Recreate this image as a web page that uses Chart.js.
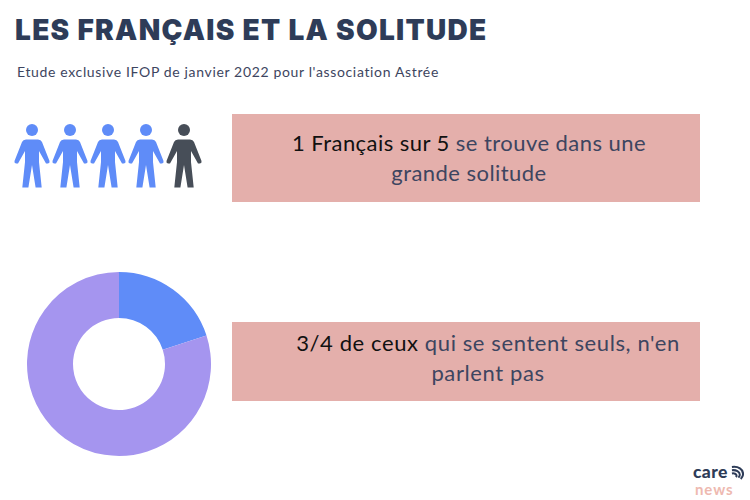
<!DOCTYPE html>
<html lang="fr">
<head>
<meta charset="utf-8">
<title>Les Français et la solitude</title>
<script src="https://cdn.jsdelivr.net/npm/chart.js@4"></script>
<style>
  html, body { margin: 0; padding: 0; background: #fff; }
  #page { position: relative; width: 750px; height: 500px; overflow: hidden; font-family: Lato, sans-serif; color: #3d4560; }
  #page > * { position: absolute; }
  h1 { margin: 0; left: 15px; top: 11px; font: 900 28px/38px Inter, sans-serif; letter-spacing: 1.3px; color: #2e3c58; white-space: nowrap; }
  #subtitle { left: 17px; top: 64px; font-size: 14px; line-height: 16px; letter-spacing: 0.65px; white-space: nowrap; }
  .box { left: 232px; width: 468px; background: #e4afab; font-size: 22px; line-height: 30px; letter-spacing: 0.45px; text-align: center; }
  .box b { font-weight: 400; color: #111; }
  #box1 { top: 114px; height: 88px; }
  #box1 div { margin-top: 14px; padding-left: 6px; }
  #box2 { top: 322px; height: 79px; letter-spacing: 0.6px; }
  #box2 div { margin-top: 6px; padding-left: 44px; }
  #logo1 { left: 693px; top: 464px; font: 900 17.5px/16px Lato, sans-serif; color: #2e3c58; letter-spacing: 0.4px; }
  #logo2 { left: 695px; top: 482px; font: 700 15px/14px Lato, sans-serif; color: #eeb9b0; letter-spacing: 0.9px; }
  #logoMark { left: 731px; top: 465px; }
</style>
</head>
<body>
<div id="page">
  <h1>LES FRANÇAIS ET LA SOLITUDE</h1>
  <div id="subtitle">Etude exclusive IFOP de janvier 2022 pour l'association Astrée</div>
  <canvas id="peopleChart" width="190" height="70" style="left:13px;top:121px"></canvas>
  <div class="box" id="box1"><div><b>1 Français sur 5</b> se trouve dans une<br>grande solitude</div></div>
  <canvas id="donutChart" width="200" height="200" style="left:19px;top:264px"></canvas>
  <div class="box" id="box2"><div><b>3/4 de ceux</b> qui se sentent seuls, n'en<br>parlent pas</div></div>
  <div id="logo1">care</div>
  <div id="logo2">news</div>
  <svg id="logoMark" width="13" height="16" viewBox="0 0 14 16" fill="none" stroke="#2e3c58" stroke-width="2.2">
    <path d="M1 1.5 C8 0.5 13 4 13 9 C13 11 12 13 10.5 14.5"/>
    <path d="M1 5 C5.5 4.5 9.5 6.5 9.5 10 C9.5 11 9 12 8 13"/>
    <path d="M1 8.5 C3.5 8 6 9 6 11 C6 11.5 5.8 12 5.4 12.5"/>
  </svg>
</div>
<script>
const donutLabels = ['Se trouve dans une grande solitude', 'Autres'];
const donutValues = [20, 80];
const donutColors = ['#5f8cf8', '#a595ef'];

const peopleColumns = [1, 2, 3, 4, 5];
const peopleRow = [1, 1, 1, 1, 1];
const peopleColors = ['#5f8cf8', '#5f8cf8', '#5f8cf8', '#5f8cf8', '#474e58'];

// little person used as point style
function makePerson(color) {
  const c = document.createElement('canvas');
  c.width = 40;
  c.height = 68;
  const ctx = c.getContext('2d');
  ctx.translate(20, 2);
  ctx.fillStyle = color;
  ctx.beginPath();
  ctx.arc(0, 6, 6, 0, Math.PI * 2);
  ctx.fill();
  ctx.beginPath();
  ctx.moveTo(-6, 15.5);
  ctx.lineTo(6, 15.5);
  ctx.quadraticCurveTo(9, 15.5, 10, 18);
  ctx.lineTo(17.5, 37);
  ctx.quadraticCurveTo(18, 39, 16, 39.5);
  ctx.lineTo(14, 39.5);
  ctx.lineTo(7, 27);
  ctx.lineTo(7, 38);
  ctx.lineTo(9.7, 63.5);
  ctx.lineTo(3.6, 63.5);
  ctx.lineTo(0, 41);
  ctx.lineTo(-3.6, 63.5);
  ctx.lineTo(-9.7, 63.5);
  ctx.lineTo(-7, 38);
  ctx.lineTo(-7, 27);
  ctx.lineTo(-14, 39.5);
  ctx.lineTo(-16, 39.5);
  ctx.quadraticCurveTo(-18, 39, -17.5, 37);
  ctx.lineTo(-10, 18);
  ctx.quadraticCurveTo(-9, 15.5, -6, 15.5);
  ctx.closePath();
  ctx.fill();
  return c;
}

new Chart(document.getElementById('peopleChart'), {
  type: 'scatter',
  data: {
    datasets: [{
      data: peopleColumns.map((x, i) => ({ x: x, y: peopleRow[i] })),
      pointStyle: peopleColors.map(makePerson),
      clip: false,
    }],
  },
  options: {
    responsive: false,
    animation: false,
    events: [],
    layout: { autoPadding: false },
    plugins: { legend: { display: false }, tooltip: { enabled: false } },
    scales: {
      x: { display: false, min: 0.5, max: 5.5 },
      y: { display: false, min: 0, max: 2 },
    },
  },
});

new Chart(document.getElementById('donutChart'), {
  type: 'doughnut',
  data: {
    labels: donutLabels,
    datasets: [{ data: donutValues, backgroundColor: donutColors, borderWidth: 0 }],
  },
  options: {
    responsive: false,
    animation: false,
    events: [],
    cutout: '50%',
    layout: { padding: 8 },
    plugins: { legend: { display: false }, tooltip: { enabled: false } },
  },
});
</script>
</body>
</html>
